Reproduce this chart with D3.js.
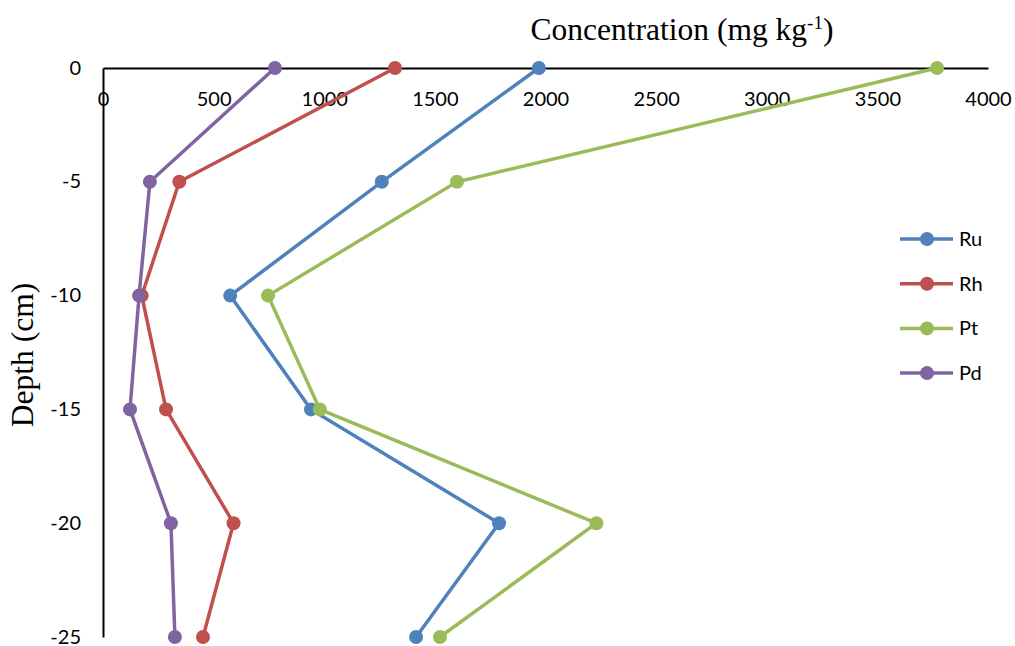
<!DOCTYPE html>
<html>
<head>
<meta charset="utf-8">
<style>
  body { margin: 0; background: #fff; }
  .tick text { font-family: Lato, "Open Sans", sans-serif; font-size: 20px; fill: #000; }
</style>
</head>
<body>
<script src="https://cdn.jsdelivr.net/npm/d3@7"></script>
<script>
var depths = [0, -5, -10, -15, -20, -25];
var seriesNames = ["Ru", "Rh", "Pt", "Pd"];
var ru = [1970, 1260, 575, 940, 1790, 1415];
var rh = [1320, 345, 175, 285, 590, 452];
var pt = [3770, 1600, 746, 980, 2230, 1523];
var pd = [777, 212, 163, 122, 307, 325];
var xTicks = [0, 500, 1000, 1500, 2000, 2500, 3000, 3500, 4000];
var yTicks = [0, -5, -10, -15, -20, -25];
var colors = ["#4F81BD", "#C0504D", "#9BBB59", "#8064A2"];

var series = [ru, rh, pt, pd].map(function(vals, i) {
  return { name: seriesNames[i], color: colors[i],
    points: vals.map(function(v, j) { return { x: v, y: depths[j] }; }) };
});

var W = 1015, H = 646;
var margin = {top: 68, right: 27, bottom: 9, left: 103};
var width = W - margin.left - margin.right,
    height = H - margin.top - margin.bottom;

var svg = d3.select("body").append("svg")
    .attr("width", W)
    .attr("height", H)
  .append("g")
    .attr("transform", "translate(" + margin.left + "," + margin.top + ")");

var x = d3.scaleLinear().domain([0, 4000]).range([0, width]);
var y = d3.scaleLinear().domain([0, -25]).range([0, height]);

var fmt = function(d) { return String(d); };

// x axis along the top, labels below the line
var xg = svg.append("g")
    .call(d3.axisBottom(x).tickValues(xTicks).tickFormat(fmt).tickSize(0).tickPadding(22));
xg.select(".domain").attr("stroke", "#000").attr("stroke-width", 2);
xg.selectAll(".tick text").attr("dy", "0.78em");

var yg = svg.append("g")
    .call(d3.axisLeft(y).tickValues(yTicks).tickFormat(fmt).tickSize(0).tickPadding(22));
yg.select(".domain").attr("stroke", "#000").attr("stroke-width", 2);
yg.selectAll(".tick text").attr("dy", "0.3em");

var line = d3.line()
    .x(function(d) { return x(d.x); })
    .y(function(d) { return y(d.y); });

series.forEach(function(s) {
  svg.append("path")
      .datum(s.points)
      .attr("fill", "none")
      .attr("stroke", s.color)
      .attr("stroke-width", 3.5)
      .attr("d", line);
  svg.selectAll(".dot-" + s.name)
      .data(s.points)
    .enter().append("circle")
      .attr("r", 7)
      .attr("cx", function(d) { return x(d.x); })
      .attr("cy", function(d) { return y(d.y); })
      .attr("fill", s.color);
});

// titles
var title = svg.append("text")
    .attr("x", 682 - margin.left)
    .attr("y", 40 - margin.top)
    .attr("text-anchor", "middle")
    .style("font-family", "'Liberation Serif', 'Times New Roman', serif")
    .style("font-size", "31.5px");
title.append("tspan").text("Concentration (mg kg");
title.append("tspan").attr("dy", -11).style("font-size", "19px").text("-1");
title.append("tspan").attr("dy", 11).text(")");

svg.append("text")
    .attr("transform", "translate(" + (33 - margin.left) + "," + (355 - margin.top) + ")rotate(-90)")
    .attr("text-anchor", "middle")
    .style("font-family", "'Liberation Serif', 'Times New Roman', serif")
    .style("font-size", "31.5px")
    .text("Depth (cm)");

// legend
var legend = svg.selectAll(".legend")
    .data(series)
  .enter().append("g")
    .attr("class", "legend")
    .attr("transform", function(d, i) {
      return "translate(" + (900 - margin.left) + "," + (239 + i * 44.7 - margin.top) + ")";
    });

legend.append("line")
    .attr("x1", 0).attr("x2", 53)
    .attr("stroke", function(d) { return d.color; })
    .attr("stroke-width", 3.5);
legend.append("circle")
    .attr("cx", 27).attr("r", 7)
    .attr("fill", function(d) { return d.color; });
legend.append("text")
    .attr("x", 59)
    .attr("dy", "0.35em")
    .style("font-family", "Lato, 'Open Sans', sans-serif")
    .style("font-size", "20px")
    .text(function(d) { return d.name; });
</script>
</body>
</html>
